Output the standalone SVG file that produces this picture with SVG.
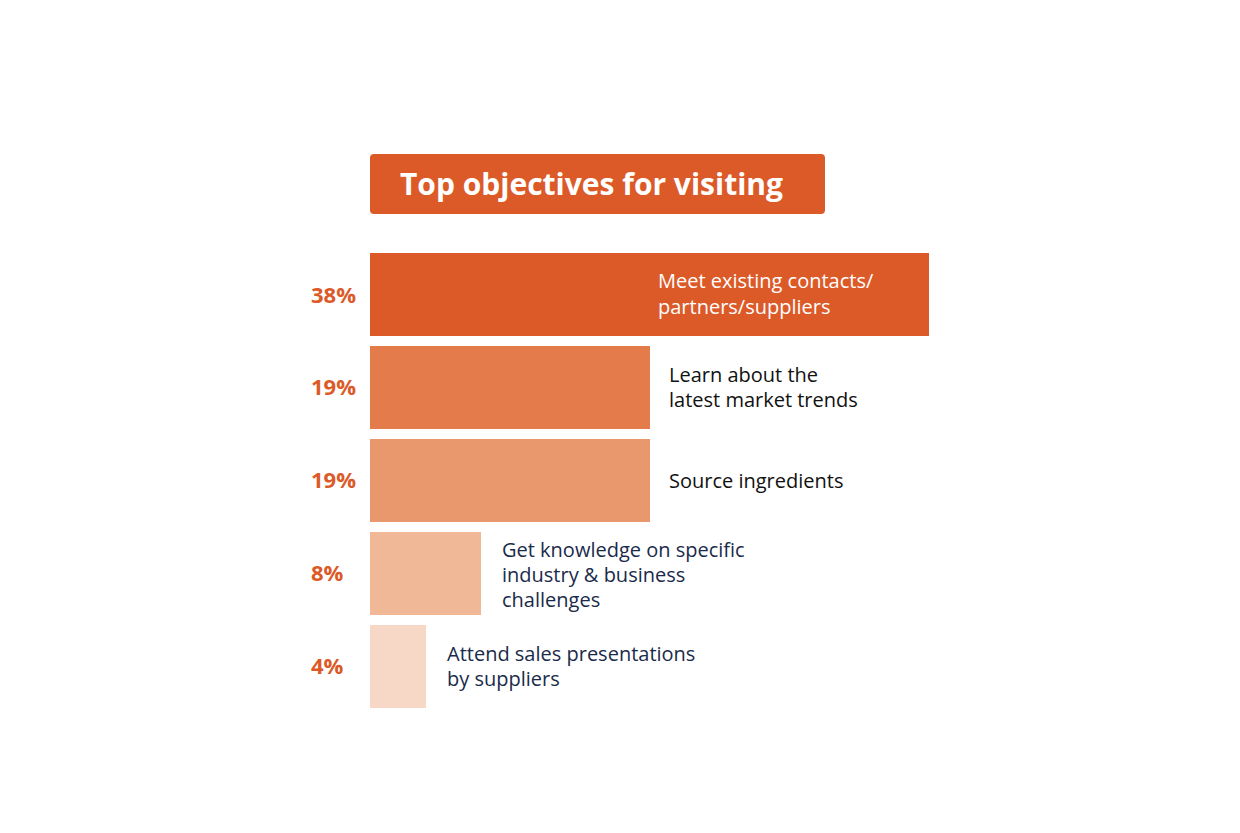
<svg xmlns="http://www.w3.org/2000/svg" width="1240" height="833" viewBox="0 0 1240 833">
<style>
.t{font-family:"Open Sans","Liberation Sans",sans-serif;font-size:20px}
.p{font-family:"Open Sans","Liberation Sans",sans-serif;font-size:22px;font-weight:700;fill:#DC5A28}
</style>
<rect width="1240" height="833" fill="#fff"/>
<g id="title"><rect x="370" y="154" width="455" height="60" rx="4" fill="#DC5A28"/>
<text x="400" y="195" font-family="'Open Sans','Liberation Sans',sans-serif" font-size="30" font-weight="700" fill="#fff">Top objectives for visiting</text></g>
<g id="bar1"><rect x="370" y="253" width="559" height="83" fill="#DC5A28"/><text class="p" x="311" y="303">38%</text>
<text class="t" fill="#fff"><tspan x="658" y="288">Meet existing contacts/</tspan><tspan x="658" y="314">partners/suppliers</tspan></text></g>
<g id="bar2"><rect x="370" y="346" width="280" height="83" fill="#E37B4A"/><text class="p" x="311" y="395">19%</text>
<text class="t" fill="#111"><tspan x="669" y="382">Learn about the</tspan><tspan x="669" y="407">latest market trends</tspan></text></g>
<g id="bar3"><rect x="370" y="439" width="280" height="83" fill="#E9976D"/><text class="p" x="311" y="488">19%</text>
<text class="t" fill="#111" x="669" y="488">Source ingredients</text></g>
<g id="bar4"><rect x="370" y="532" width="111" height="83" fill="#F1B897"/><text class="p" x="311" y="581">8%</text>
<text class="t" fill="#1a2b4a"><tspan x="502" y="557">Get knowledge on specific</tspan><tspan x="502" y="582">industry &amp; business</tspan><tspan x="502" y="607">challenges</tspan></text></g>
<g id="bar5"><rect x="370" y="625" width="56" height="83" fill="#F7D8C6"/><text class="p" x="311" y="674">4%</text>
<text class="t" fill="#1a2b4a"><tspan x="447" y="661">Attend sales presentations</tspan><tspan x="447" y="686">by suppliers</tspan></text></g>
<g id="connectors"/>
</svg>
